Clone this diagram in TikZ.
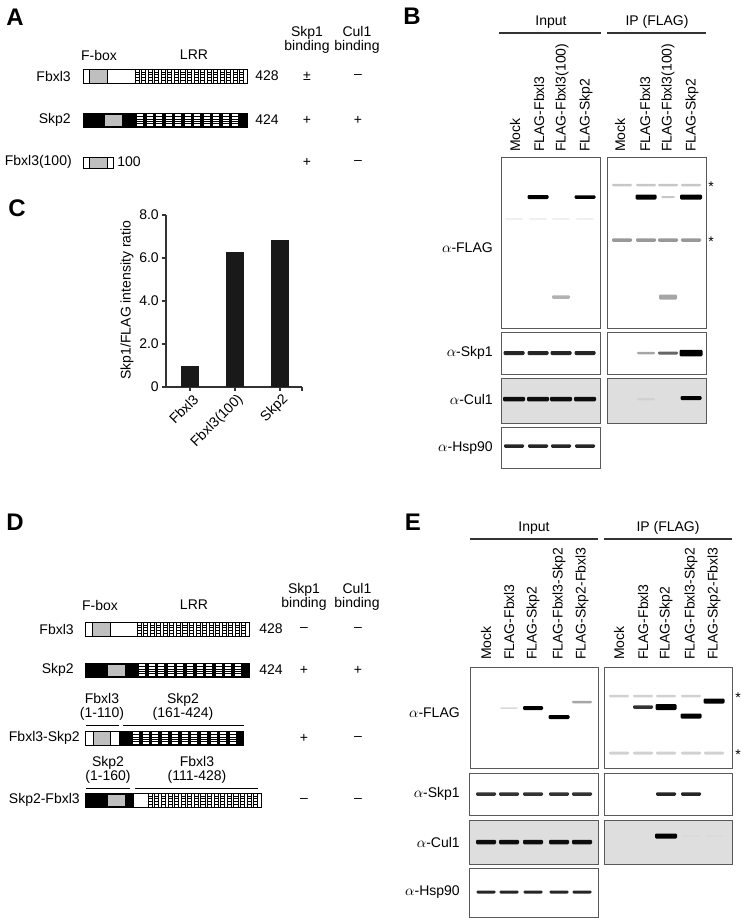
\documentclass[tikz,border=0pt]{standalone}
\usepackage{fontspec}
\setmainfont{Liberation Sans}

\definecolor{fboxgray}{gray}{0.75}
\definecolor{blotgray}{gray}{0.87}

% LRR cells of Fbxl3: x start, x end, y top, y bottom, number of cells
\newcommand{\lrrfbx}[5]{%
  \foreach \i in {1,...,#5}{%
    \pgfmathsetmacro{\xa}{#1+(\i-1)*(#2-#1)/#5}%
    \pgfmathsetmacro{\xb}{\xa+0.62*(#2-#1)/#5}%
    \draw[line width=0.35pt] (\xa,#3) rectangle (\xb,#4);
    \foreach \k in {1,...,4}{%
      \draw[line width=0.25pt] (\xa,{#3+\k*(#4-#3)/5}) -- (\xb,{#3+\k*(#4-#3)/5});
    }
  }%
}
% LRR cells of Skp2: x start, y top, y bottom, number of cells, pitch
\newcommand{\lrrskp}[5]{%
  \foreach \i in {1,...,#4}{%
    \pgfmathsetmacro{\xa}{#1+(\i-1)*#5}%
    \fill[white] (\xa,{#2+1.2}) rectangle ({\xa+6},{#3-1.2});
    \foreach \k in {1,...,4}{%
      \draw[line width=0.25pt] (\xa,{#2+1.2+\k*(#3-#2-2.4)/5}) -- ({\xa+6},{#2+1.2+\k*(#3-#2-2.4)/5});
    }
  }%
}
% blot band: x, y, width, height, shade
\newcommand{\band}[5]{%
  \fill[black!#5, rounded corners=0.8pt] ({#1-#3/2},{#2-#4/2}) rectangle ({#1+#3/2},{#2+#4/2});}

\tikzset{
  lbl/.style={font=\fontsize{10.5}{10.5}\selectfont, inner sep=0pt},
  panel/.style={font=\fontsize{18}{18}\selectfont\bfseries, inner sep=0pt},
  lane/.style={lbl, rotate=90, anchor=west},
  blot/.style={draw=black!65, line width=0.7pt},
  dom/.style={line width=0.7pt},
  axis/.style={draw=black!80, line width=0.8pt},
  hdr/.style={line width=0.9pt, draw=black!80},
}

\begin{document}
\begin{tikzpicture}[x=0.75pt, y=-0.75pt]
  \useasboundingbox (0,0) rectangle (741,918);

  % ---------- panel A ----------
  \node[panel] (A) at (15,17) {A};
  \node[lbl] (A-fbox) at (99,55) {F-box};
  \node[lbl] (A-lrr) at (194,55) {LRR};
  \node[lbl, align=center] (A-skp1) at (307,40) {Skp1\\binding};
  \node[lbl, align=center] (A-cul1) at (357,40) {Cul1\\binding};
  % Fbxl3
  \node[lbl, anchor=east] (A-name1) at (71,76) {Fbxl3};
  \draw[dom, fill=white] (83,69) rectangle (247,83);
  \draw[dom, fill=fboxgray] (89,69) rectangle (107,83);
  \lrrfbx{135}{246}{69}{83}{17}
  \node[lbl] (A-len1) at (267,76) {428};
  \node[lbl] (A-s1) at (307,76) {±};
  \node[lbl] (A-c1) at (358,76) {–};
  % Skp2
  \node[lbl, anchor=east] (A-name2) at (71,120) {Skp2};
  \draw[dom, fill=black] (83,113) rectangle (247,127);
  \fill[fboxgray] (105,114.5) rectangle (122,125.5);
  \lrrskp{137}{113}{127}{11}{9.5}
  \node[lbl] (A-len2) at (267,120) {424};
  \node[lbl] (A-s2) at (307,120) {+};
  \node[lbl] (A-c2) at (358,120) {+};
  % Fbxl3(100)
  \node[lbl, anchor=east] (A-name3) at (72,162) {Fbxl3(100)};
  \draw[dom, fill=white] (83,157) rectangle (113,168);
  \draw[dom, fill=fboxgray] (89,157) rectangle (107,168);
  \node[lbl, anchor=west] (A-len3) at (117,162) {100};
  \node[lbl] (A-s3) at (307,162) {+};
  \node[lbl] (A-c3) at (358,162) {–};

  % ---------- panel C ----------
  \node[panel] (C) at (17,208) {C};
  \draw[axis] (166,215) -- (166,387) -- (302,387);
  \foreach \y/\v [count=\n] in {215/8.0, 258/6.0, 301/4.0, 344/2.0, 387/0}{
    \draw[axis] (162,\y) -- (166,\y);
    \node[lbl, anchor=east] (C-y\n) at (159,\y) {\v};
  }
  \foreach \x in {190,235,280,302}
    \draw[axis] (\x,387) -- (\x,391);
  \foreach \x/\h in {190/366, 235/252, 280/240}
    \fill[black!90] (\x-9,\h) rectangle (\x+9,387);
  \foreach \x/\t [count=\n] in {190/Fbxl3, 235/Fbxl3(100), 280/Skp2}
    \node[lbl, rotate=45, anchor=east] (C-x\n) at (\x+6,397) {\t};
  \node[lbl, rotate=90] (C-ylab) at (127,300) {Skp1/FLAG intensity ratio};

  % ---------- panel B ----------
  \node[panel] (B) at (412,16) {B};
  \node[lbl] (B-in) at (551,22) {Input};
  \node[lbl] (B-ip) at (657,22) {IP (FLAG)};
  \draw[hdr] (499,33) -- (601,33);
  \draw[hdr] (607,33) -- (706,33);
  \foreach \x/\t [count=\n] in {515/Mock, 539/FLAG-Fbxl3, 562/FLAG-Fbxl3(100), 586/FLAG-Skp2}
    \node[lane] (B-lin\n) at (\x,152) {\t};
  \foreach \x/\t [count=\n] in {620/Mock, 645/FLAG-Fbxl3, 668/FLAG-Fbxl3(100), 692/FLAG-Skp2}
    \node[lane] (B-lip\n) at (\x,152) {\t};
  % blots
  \draw[blot, fill=white] (501,157) rectangle (600,328);
  \draw[blot, fill=white] (607,157) rectangle (706,328);
  \draw[blot, fill=white] (501,332) rectangle (600,374);
  \draw[blot, fill=white] (607,332) rectangle (706,374);
  \draw[blot, fill=blotgray] (501,378) rectangle (600,423);
  \draw[blot, fill=blotgray] (607,378) rectangle (706,423);
  \draw[blot, fill=white] (501,427) rectangle (600,468);
  \node[lbl, anchor=east] (B-flag) at (493,248) {$\alpha$-FLAG};
  \node[lbl, anchor=east] (B-skp1) at (493,353) {$\alpha$-Skp1};
  \node[lbl, anchor=east] (B-cul1) at (493,399) {$\alpha$-Cul1};
  \node[lbl, anchor=east] (B-hsp) at (493,448) {$\alpha$-Hsp90};
  % bands, input
  \foreach \x in {514,538,561,585} \band{\x}{219}{18}{1.4}{9};
  \band{538}{197}{21}{4}{100}
  \band{585}{197}{21}{3.5}{100}
  \band{561}{297}{18}{3.5}{30}
  \foreach \x in {514,538,561,585} \band{\x}{353}{21}{4}{85};
  \foreach \x in {514,538,561,585} \band{\x}{399}{22}{4.5}{95};
  \foreach \x in {514,538,561,585} \band{\x}{446}{20}{3.5}{85};
  % bands, IP
  \foreach \x in {622,646,668,691} \band{\x}{185}{20}{2.5}{22};
  \band{646}{197}{21}{5}{100}
  \band{668}{197}{14}{2}{22}
  \band{691}{197}{22}{5}{100}
  \foreach \x in {622,646,668,691} \band{\x}{240}{20}{3.5}{40};
  \band{668}{297}{18}{5}{35}
  \band{646}{353}{18}{2.5}{35}
  \band{668}{353}{20}{3}{60}
  \band{691}{353}{23}{6.5}{100}
  \band{646}{399}{18}{2.5}{18}
  \band{691}{398}{21}{4}{100}
  \node[lbl] (B-ast1) at (711,187) {*};
  \node[lbl] (B-ast2) at (711,242) {*};

  % ---------- panel D ----------
  \node[panel] (D) at (15,522) {D};
  \node[lbl] (D-fbox) at (100,605) {F-box};
  \node[lbl] (D-lrr) at (194,605) {LRR};
  \node[lbl, align=center] (D-skp1) at (304,597) {Skp1\\binding};
  \node[lbl, align=center] (D-cul1) at (357,597) {Cul1\\binding};
  % Fbxl3
  \node[lbl, anchor=east] (D-name1) at (74,629) {Fbxl3};
  \draw[dom, fill=white] (85,622) rectangle (249,636);
  \draw[dom, fill=fboxgray] (92,622) rectangle (110,636);
  \lrrfbx{137}{248}{622}{636}{17}
  \node[lbl] (D-len1) at (271,629) {428};
  \node[lbl] (D-s1) at (304,629) {–};
  \node[lbl] (D-c1) at (358,629) {–};
  % Skp2
  \node[lbl, anchor=east] (D-name2) at (74,670) {Skp2};
  \draw[dom, fill=black] (85,663) rectangle (249,677);
  \fill[fboxgray] (108,664.5) rectangle (125,675.5);
  \lrrskp{139}{663}{677}{11}{9.6}
  \node[lbl] (D-len2) at (271,670) {424};
  \node[lbl] (D-s2) at (304,670) {+};
  \node[lbl] (D-c2) at (358,670) {+};
  % Fbxl3-Skp2
  \node[lbl, align=center] (D-p1) at (102,707) {Fbxl3\\(1-110)};
  \node[lbl, align=center] (D-p2) at (183,707) {Skp2\\(161-424)};
  \draw[dom] (86,725) -- (119,725);
  \draw[dom] (123,725) -- (244,725);
  \node[lbl, anchor=east] (D-name3) at (80,738) {Fbxl3-Skp2};
  \draw[dom, fill=black] (85,731) rectangle (243,745);
  \fill[white] (85.5,731.5) rectangle (119,744.5);
  \draw[dom] (85,731) -- (85,745);
  \draw[dom, fill=fboxgray] (93,731) rectangle (110,745);
  \draw[dom] (85,731) -- (119,731) (85,745) -- (119,745);
  \lrrskp{133}{731}{745}{11}{9.7}
  \node[lbl] (D-s3) at (304,738) {+};
  \node[lbl] (D-c3) at (358,738) {–};
  % Skp2-Fbxl3
  \node[lbl, align=center] (D-p3) at (108,770) {Skp2\\(1-160)};
  \node[lbl, align=center] (D-p4) at (197,770) {Fbxl3\\(111-428)};
  \draw[dom] (86,788) -- (130,788);
  \draw[dom] (135,788) -- (258,788);
  \node[lbl, anchor=east] (D-name4) at (80,800) {Skp2-Fbxl3};
  \draw[dom, fill=white] (85,793) rectangle (261,807);
  \fill[black] (85,793) rectangle (134,807);
  \fill[fboxgray] (108,794.5) rectangle (125,805.5);
  \lrrfbx{148}{260}{793}{807}{17}
  \draw[dom] (85,793) rectangle (261,807);
  \node[lbl] (D-s4) at (304,800) {–};
  \node[lbl] (D-c4) at (358,800) {–};

  % ---------- panel E ----------
  \node[panel] (E) at (413,522) {E};
  \node[lbl] (E-in) at (534,528) {Input};
  \node[lbl] (E-ip) at (668,528) {IP (FLAG)};
  \draw[hdr] (470,539) -- (598,539);
  \draw[hdr] (604,539) -- (732,539);
  \foreach \x/\t [count=\n] in {486/Mock, 509/FLAG-Fbxl3, 533/FLAG-Skp2, 559/FLAG-Fbxl3-Skp2, 582/FLAG-Skp2-Fbxl3}
    \node[lane] (E-lin\n) at (\x,660) {\t};
  \foreach \x/\t [count=\n] in {619/Mock, 643/FLAG-Fbxl3, 666/FLAG-Skp2, 691/FLAG-Fbxl3-Skp2, 714/FLAG-Skp2-Fbxl3}
    \node[lane] (E-lip\n) at (\x,660) {\t};
  % blots
  \draw[blot, fill=white] (470,667) rectangle (598,768);
  \draw[blot, fill=white] (604,667) rectangle (732,768);
  \draw[blot, fill=white] (469,773) rectangle (598,815);
  \draw[blot, fill=white] (604,773) rectangle (732,815);
  \draw[blot, fill=blotgray] (469,820) rectangle (598,864);
  \draw[blot, fill=blotgray] (604,820) rectangle (732,864);
  \draw[blot, fill=white] (469,868) rectangle (598,917);
  \node[lbl, anchor=east] (E-flag) at (460,713) {$\alpha$-FLAG};
  \node[lbl, anchor=east] (E-skp1) at (460,794) {$\alpha$-Skp1};
  \node[lbl, anchor=east] (E-cul1) at (460,842) {$\alpha$-Cul1};
  \node[lbl, anchor=east] (E-hsp) at (460,892) {$\alpha$-Hsp90};
  % bands, input
  \band{509}{708}{18}{1.5}{15}
  \band{533}{708}{20}{4}{100}
  \band{559}{717}{21}{4}{100}
  \band{582}{702}{20}{2.5}{35}
  \foreach \x in {486,509,533,559,582} \band{\x}{794}{20}{3.5}{80};
  \foreach \x in {486,509,533,559,582} \band{\x}{842}{20}{4.5}{95};
  \foreach \x in {486,509,533,559,582} \band{\x}{892}{19}{3}{85};
  % bands, IP
  \foreach \x in {619,643,666,691} \band{\x}{696}{20}{2.5}{18};
  \band{643}{707}{20}{3.5}{80}
  \band{666}{707}{21}{6}{100}
  \band{691}{716}{21}{5}{100}
  \band{714}{701}{21}{5}{100}
  \foreach \x in {619,643,666,691,714} \band{\x}{753}{20}{3}{18};
  \band{666}{794}{20}{3.5}{85}
  \band{691}{794}{20}{3.5}{85}
  \band{666}{836}{22}{5}{100}
  \band{691}{836}{18}{1.5}{15}
  \band{714}{836}{18}{1.5}{15}
  \node[lbl] (E-ast1) at (738,698) {*};
  \node[lbl] (E-ast2) at (738,755) {*};
\end{tikzpicture}
\end{document}
